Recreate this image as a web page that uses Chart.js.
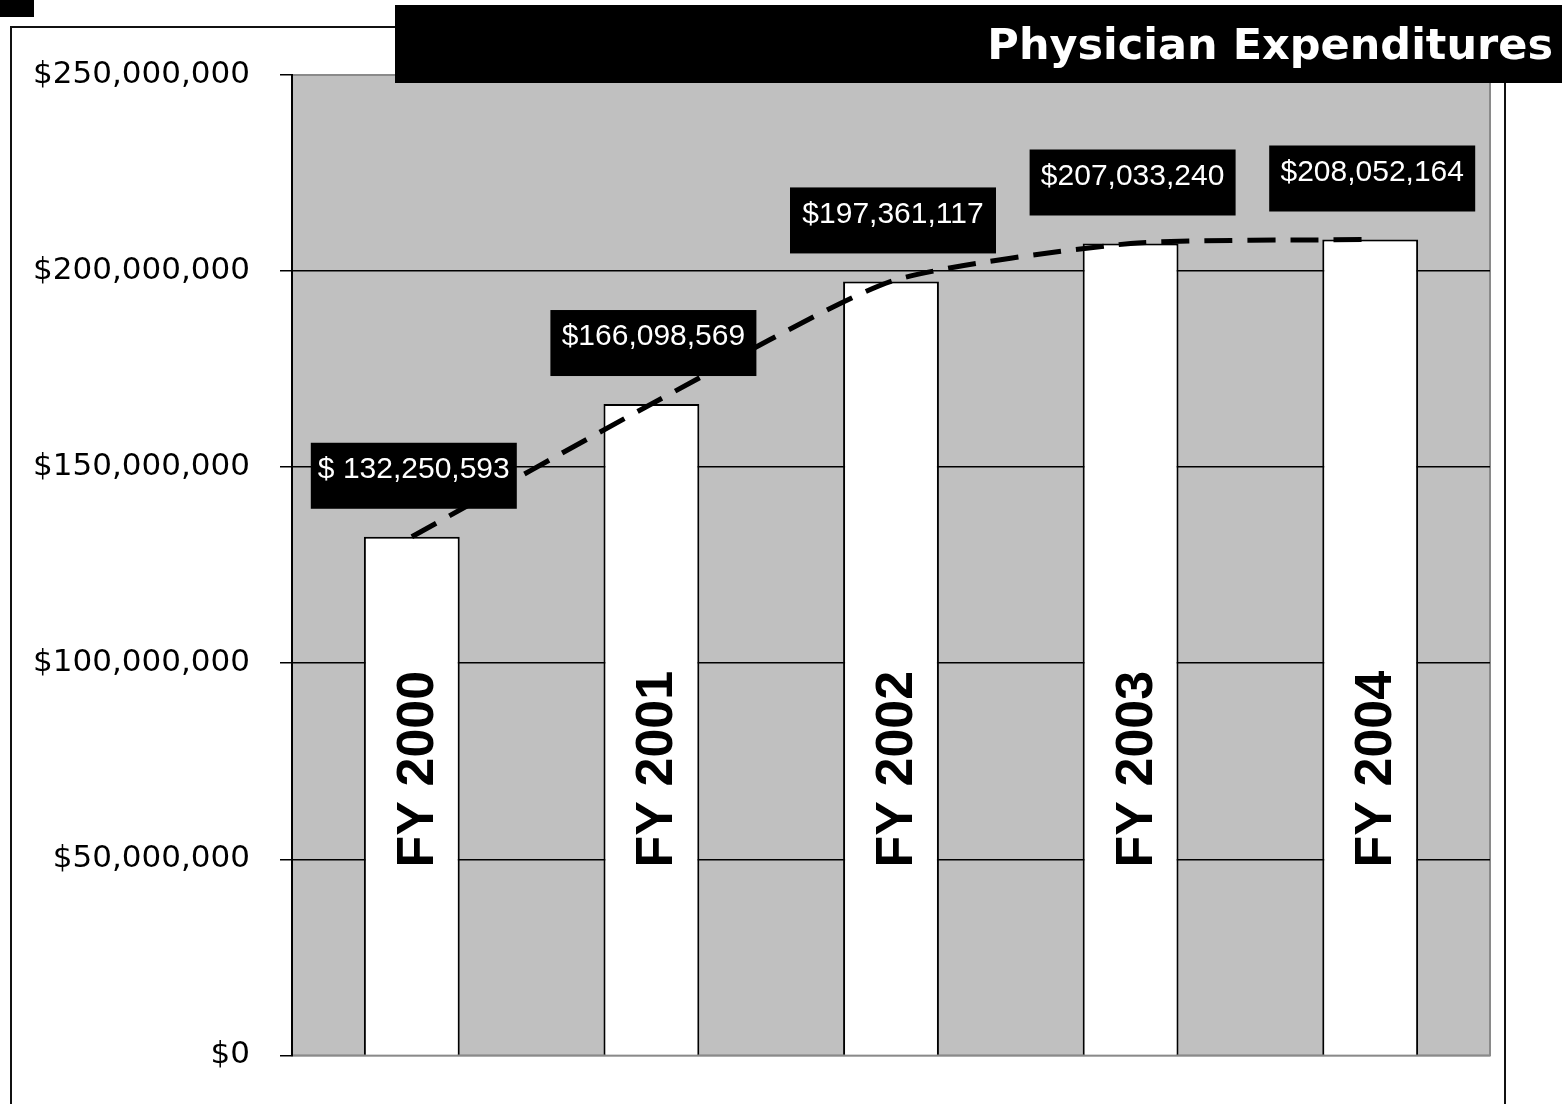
<!DOCTYPE html>
<html>
<head>
<meta charset="utf-8">
<script src="https://cdn.jsdelivr.net/npm/chart.js@4/dist/chart.umd.min.js"></script>
<style>
  html, body { margin: 0; padding: 0; background: #ffffff; }
  #c { display: block; }
</style>
</head>
<body>
<canvas id="c" width="1566" height="1104"></canvas>
<script>
// ---- data ----
const categories = ['FY 2000', 'FY 2001', 'FY 2002', 'FY 2003', 'FY 2004'];
const expenditures = [132250593, 166098569, 197361117, 207033240, 208052164];
const valueLabels = ['$ 132,250,593', '$166,098,569', '$197,361,117', '$207,033,240', '$208,052,164'];
const yTicks = [0, 50000000, 100000000, 150000000, 200000000, 250000000];
const chartTitle = 'Physician Expenditures';

function money(v) { return '$' + v.toLocaleString('en-US'); }

const decorPlugin = {
  id: 'decor',
  beforeDraw(chart) {
    const ctx = chart.ctx, a = chart.chartArea;
    ctx.save();
    ctx.fillStyle = '#ffffff';
    ctx.fillRect(0, 0, chart.width, chart.height);
    // outer frame
    ctx.strokeStyle = '#111';
    ctx.lineWidth = 2;
    ctx.strokeRect(11, 27, 1494, 1100);
    // small corner block
    ctx.fillStyle = '#000';
    ctx.fillRect(0, 0, 34, 17);
    // plot background
    ctx.fillStyle = '#c0c0c0';
    ctx.fillRect(a.left, a.top, a.right - a.left, a.bottom - a.top);
    ctx.strokeStyle = '#8a8a8a';
    ctx.lineWidth = 2;
    ctx.strokeRect(a.left, a.top, a.right - a.left, a.bottom - a.top);
    ctx.restore();
  },
  afterDatasetsDraw(chart) {
    const ctx = chart.ctx, a = chart.chartArea;
    const xs = chart.scales.x, ys = chart.scales.y;
    ctx.save();
    // category labels inside bars (rotated)
    ctx.fillStyle = '#000';
    ctx.font = 'bold 52px "Liberation Sans", Arial, sans-serif';
    ctx.textAlign = 'left';
    ctx.textBaseline = 'alphabetic';
    categories.forEach((c, i) => {
      const cx = xs.getPixelForValue(i);
      ctx.save();
      ctx.translate(cx + 21, a.bottom - 188);
      ctx.rotate(-Math.PI / 2);
      ctx.fillText(c, 0, 0);
      ctx.restore();
    });
    // value label boxes
    ctx.font = '30px "Liberation Sans", Arial, sans-serif';
    ctx.textAlign = 'center';
    ctx.textBaseline = 'middle';
    expenditures.forEach((v, i) => {
      const cx = xs.getPixelForValue(i) + 2;
      const top = ys.getPixelForValue(v);
      const bw = 206, bh = 66;
      const by = top - 28 - bh;
      ctx.fillStyle = '#000';
      ctx.fillRect(cx - bw / 2, by, bw, bh);
      ctx.fillStyle = '#fff';
      ctx.fillText(valueLabels[i], cx, by + 27);
    });
    // title banner
    ctx.fillStyle = '#000';
    ctx.fillRect(395, 5, 1167, 78);
    ctx.fillStyle = '#fff';
    ctx.font = 'bold 43px "DejaVu Sans", Verdana, sans-serif';
    ctx.textAlign = 'right';
    ctx.textBaseline = 'alphabetic';
    ctx.fillText(chartTitle, 1553, 59);
    ctx.restore();
  }
};

new Chart(document.getElementById('c'), {
  type: 'bar',
  data: {
    labels: categories,
    datasets: [
      {
        type: 'line',
        data: expenditures,
        borderColor: '#000',
        borderWidth: 5,
        borderDash: [28, 15],
        pointRadius: 0,
        tension: 0.2,
        fill: false,
        order: 0
      },
      {
        type: 'bar',
        data: expenditures,
        backgroundColor: '#ffffff',
        borderColor: '#000000',
        borderWidth: 2,
        categoryPercentage: 1,
        barPercentage: 0.4,
        order: 1
      }
    ]
  },
  options: {
    responsive: false,
    animation: false,
    layout: { padding: { top: 75, right: 76, bottom: 46, left: 0 } },
    plugins: {
      legend: { display: false },
      tooltip: { enabled: false },
      title: { display: false }
    },
    scales: {
      x: { display: false },
      y: {
        min: 0,
        max: 250000000,
        afterFit(scale) { scale.width = 292; },
        afterBuildTicks(scale) { scale.ticks = yTicks.map(v => ({ value: v })); },
        ticks: {
          color: '#000',
          padding: 30,
          font: { family: '"DejaVu Sans", Verdana, sans-serif', size: 31 },
          callback: (v) => money(v)
        },
        grid: {
          color: (c) => (c.tick && (c.tick.value === 0 || c.tick.value === 250000000)) ? '#8a8a8a' : '#000',
          tickColor: '#000',
          lineWidth: 1.5,
          tickLength: 12,
          drawOnChartArea: true
        },
        border: { display: true, color: '#000', width: 2 }
      }
    }
  },
  plugins: [decorPlugin]
});
</script>
</body>
</html>
